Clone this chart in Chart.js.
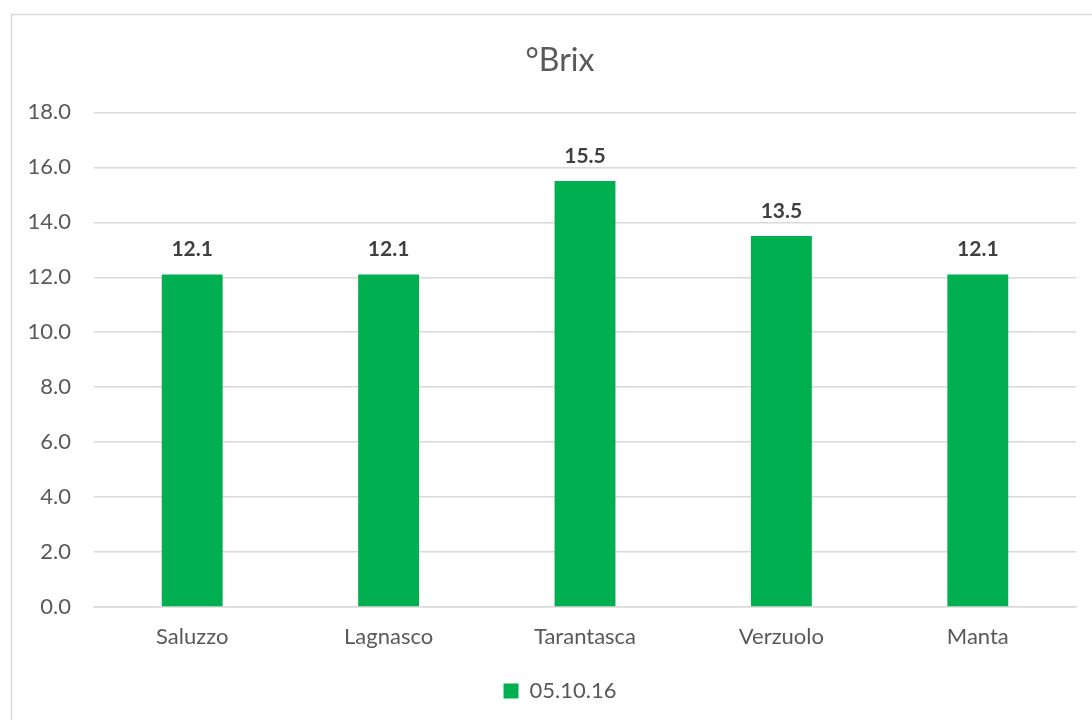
<!DOCTYPE html>
<html><head><meta charset="utf-8">
<script src="https://cdn.jsdelivr.net/npm/chart.js@4.4.0/dist/chart.umd.min.js"></script>
<style>html,body{margin:0;padding:0;background:#fff}#wrap{width:1092px;height:720px;position:relative}</style>
</head><body><div id="wrap"><canvas id="c"></canvas></div>
<script>
const categories = ["Saluzzo","Lagnasco","Tarantasca","Verzuolo","Manta"];
const seriesName = "05.10.16";
const values = [12.1, 12.1, 15.5, 13.5, 12.1];
const titleText = "°Brix";

const FONT = "Lato, 'Open Sans', sans-serif";
const TEXT = "#595959";

const borderPlugin = {
  id: 'frame',
  beforeDraw(chart){
    const c = chart.ctx;
    c.save();
    c.fillStyle = '#fff';
    c.fillRect(0,0,chart.width,chart.height);
    c.strokeStyle = '#d9d9d9';
    c.lineWidth = 1.5;
    c.strokeRect(11.5, 14.5, chart.width + 50, chart.height + 50);
    c.restore();
  }
};
const labelPlugin = {
  id: 'vlabels',
  afterDatasetsDraw(chart){
    const c = chart.ctx;
    const meta = chart.getDatasetMeta(0);
    c.save();
    c.font = "bold 21px " + FONT;
    c.fillStyle = "#404040";
    c.textAlign = 'center';
    c.textBaseline = 'middle';
    meta.data.forEach((el, i) => {
      c.fillText(values[i].toFixed(1), el.x, el.y - 25);
    });
    c.restore();
  }
};

new Chart(document.getElementById('c'), {
  type: 'bar',
  data: {
    labels: categories,
    datasets: [{
      label: seriesName,
      data: values,
      backgroundColor: '#00B050',
      borderWidth: 0,
      barPercentage: 0.31,
      categoryPercentage: 1.0
    }]
  },
  options: {
    responsive: true,
    maintainAspectRatio: false,
    animation: false,
    devicePixelRatio: 1,
    layout: { padding: { top: 14, left: 12, right: -16, bottom: 8 } },
    plugins: {
      title: {
        display: true, text: titleText, color: TEXT,
        font: { family: FONT, size: 32, weight: 'normal' },
        padding: { top: 27, bottom: 33 }
      },
      legend: {
        position: 'bottom',
        labels: {
          color: TEXT, boxWidth: 15, boxHeight: 15,
          font: { family: FONT, size: 22 }, padding: 10
        }
      },
      tooltip: { enabled: false }
    },
    scales: {
      x: {
        grid: { display: false, drawTicks: false },
        border: { display: true, color: '#d9d9d9', width: 1.5 },
        ticks: { color: TEXT, font: { family: FONT, size: 22 }, padding: 17 },
        afterFit(s){ s.height = 63; }
      },
      y: {
        min: 0, max: 18,
        ticks: { stepSize: 2, color: TEXT, font: { family: FONT, size: 22 }, padding: 23,
          callback: v => Number(v).toFixed(1) },
        grid: { color: '#d9d9d9', lineWidth: 1.5, drawTicks: false },
        border: { display: false },
        afterFit(s){ s.width = 82; }
      },
      yRight: {
        type: 'linear',
        position: 'right',
        display: true,
        grid: { display: false, drawTicks: false },
        ticks: { display: false },
        border: { display: false },
        afterFit(s){ s.width = 32; }
      }
    }
  },
  plugins: [borderPlugin, labelPlugin]
});
</script></body></html>
